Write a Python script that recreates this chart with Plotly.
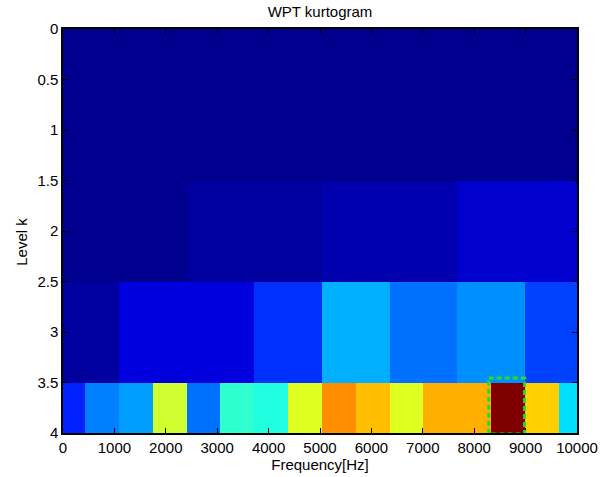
import numpy as np
import plotly.graph_objects as go

levels = [0, 1, 2, 3, 4]
band_centers_hz = [103, 761, 1419, 2077, 2735, 3393, 4051, 4709,
                   5367, 6025, 6683, 7341, 7999, 8657, 9315, 9973]
level0 = [0.005]
level1 = [0.006, 0.008]
level2 = [0.008, 0.023, 0.039, 0.070]
level3 = [0.023, 0.086, 0.086, 0.164, 0.289, 0.227, 0.258, 0.180]
level4 = [0.148, 0.250, 0.273, 0.570, 0.227, 0.414, 0.398, 0.586,
          0.727, 0.680, 0.586, 0.695, 0.695, 1.000, 0.664, 0.340]
x_ticks = [0, 1000, 2000, 3000, 4000, 5000, 6000, 7000, 8000, 9000, 10000]
y_ticks = [0, 0.5, 1, 1.5, 2, 2.5, 3, 3.5, 4]

rows = [level0, level1, level2, level3, level4]
ncol = len(band_centers_hz)
Z = np.array([np.repeat(r, ncol // len(r)) for r in rows])

# MATLAB jet(64), as a stepped colorscale
def jet64():
    m = 64
    n = int(np.ceil(m / 4))
    u = np.concatenate([np.arange(1, n + 1) / n, np.ones(n - 1), np.arange(n, 0, -1) / n])
    g = int(np.ceil(n / 2)) - (1 if m % 4 == 1 else 0) + np.arange(1, len(u) + 1)
    r = g + n
    b = g - n
    J = np.zeros((m, 3))
    for idx, col in ((r, 0), (g, 1), (b, 2)):
        ok = (idx > 0) & (idx <= m)
        J[idx[ok] - 1, col] = u[ok]
    return J

J = jet64()
cs = []
for i, c in enumerate(J):
    col = "rgb(%d,%d,%d)" % tuple(np.round(c * 255).astype(int))
    cs.append([i / 64, col])
    cs.append([(i + 1) / 64, col])

zmin, zmax = float(Z.min()), float(Z.max())

fig = go.Figure()
fig.add_trace(go.Heatmap(
    z=Z, x=band_centers_hz, y=levels,
    colorscale=cs, zmin=zmin, zmax=zmax, showscale=False,
    hoverinfo="skip",
))

# highlight the maximum cell
ri, ci = np.unravel_index(np.argmax(Z), Z.shape)
dx = band_centers_hz[1] - band_centers_hz[0]
xc = band_centers_hz[ci]
fig.add_shape(type="rect", xref="x", yref="y",
              x0=xc - dx / 2 - 45, x1=xc + dx / 2 - 5,
              y0=levels[ri] - 0.545, y1=levels[ri] + 0.01,
              line=dict(color="#22e022", width=3, dash="5px,3px"),
              layer="above")

fam = "Liberation Sans, Arial, sans-serif"
font = dict(family=fam, size=15, color="black")
axis_common = dict(showline=True, linecolor="black", linewidth=1.5, mirror="allticks",
                   ticks="inside", ticklen=5, tickcolor="black", tickwidth=1,
                   showgrid=False, zeroline=False, tickfont=font, automargin=False)

fig.update_layout(
    width=610, height=477,
    margin=dict(l=63, r=33, t=29, b=44),
    paper_bgcolor="white", plot_bgcolor="white",
    title=dict(text="WPT kurtogram", xref="paper", x=0.5, xanchor="center",
               y=0.975, yanchor="middle", font=font),
    xaxis=dict(range=[0, 10000], tickvals=x_ticks, tickformat="d",
               title=dict(text="Frequency[Hz]", font=font, standoff=4), **axis_common),
    yaxis=dict(range=[4, 0], tickvals=y_ticks, **axis_common),
    font=font,
    annotations=[dict(text="Level k", xref="paper", yref="paper", x=-0.08, y=0.473,
                      xanchor="center", yanchor="middle", textangle=-90,
                      showarrow=False, font=font)],
)

fig.write_html("out.html", post_script="document.body.style.margin='0';",
               config={"displayModeBar": False})
